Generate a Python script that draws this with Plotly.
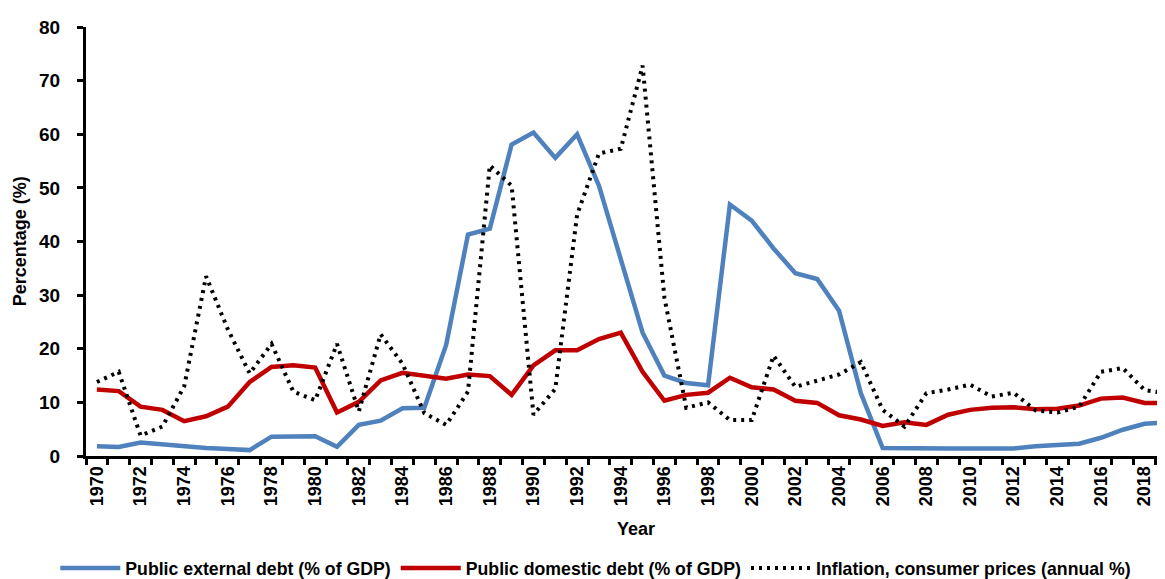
import plotly.graph_objects as go

years = list(range(1970, 2020))

external_debt = [1.8, 1.7, 2.5, 2.1, 1.7, 1.5, 1.3, 1.1, 3.6, 3.7,
                 3.7, 1.7, 5.8, 6.6, 8.9, 9.0, 20.7, 41.3, 42.4, 58.1,
                 60.3, 55.6, 60.0, 50.4, 36.9, 23.0, 15.0, 13.6, 13.2, 46.9,
                 43.9, 38.7, 34.1, 33.0, 27.1, 11.7, 1.5, 1.4, 1.4, 1.4,
                 1.4, 1.4, 1.4, 1.8, 2.0, 2.3, 3.4, 4.9, 6.0, 6.3]

domestic_debt = [12.4, 12.1, 9.2, 8.6, 6.5, 7.4, 9.2, 13.8, 16.6, 16.9,
                 16.5, 8.1, 10.1, 14.1, 15.5, 14.9, 14.4, 15.2, 14.9, 11.4,
                 16.9, 19.7, 19.7, 21.8, 23.0, 15.7, 10.3, 11.4, 11.8, 14.6,
                 12.8, 12.4, 10.3, 9.9, 7.6, 6.8, 5.6, 6.3, 5.8, 7.7,
                 8.6, 9.0, 9.1, 8.7, 8.8, 9.4, 10.7, 10.9, 9.9, 9.9]

inflation = [13.8, 15.7, 3.8, 5.5, 13.0, 33.5, 23.6, 15.4, 20.9, 12.0,
             10.4, 20.9, 8.3, 22.7, 17.2, 8.0, 5.8, 12.0, 54.2, 50.4,
             7.7, 12.5, 45.0, 56.4, 57.3, 72.8, 29.5, 9.0, 10.0, 6.7,
             6.7, 18.7, 12.9, 14.1, 15.2, 17.5, 8.6, 5.5, 11.7, 12.4,
             13.3, 11.1, 11.8, 8.5, 8.1, 9.2, 15.7, 16.4, 12.3, 11.7]

series_names = ["Public external debt (% of GDP)",
                "Public domestic debt (% of GDP)",
                "Inflation, consumer prices (annual %)"]

tick_years = years[::2]  # 1970 ... 2018
y_ticks = list(range(0, 90, 10))

FONT = "Liberation Sans, Arial, sans-serif"

fig = go.Figure()
fig.add_trace(go.Scatter(x=years, y=external_debt, name=series_names[0], mode="lines",
                         line=dict(color="#4F81BD", width=4.5)))
fig.add_trace(go.Scatter(x=years, y=domestic_debt, name=series_names[1], mode="lines",
                         line=dict(color="#C00000", width=4.5)))
fig.add_trace(go.Scatter(x=years, y=inflation, name=series_names[2], mode="lines",
                         line=dict(color="#000000", width=4, dash="3px,5px")))

fig.update_layout(
    width=1165, height=579,
    margin=dict(l=78, r=0, t=19, b=126),
    paper_bgcolor="white", plot_bgcolor="white",
    font=dict(family=FONT, size=17, color="black"),
    showlegend=True,
    legend=dict(orientation="h", x=0.469, xanchor="center", y=-0.263, yanchor="middle",
                font=dict(family=FONT, size=17.7, color="black", weight="bold"),
                itemwidth=60, bgcolor="rgba(0,0,0,0)"),
)

fig.update_xaxes(
    range=[1969.5, 2019.3],
    tickmode="array", tickvals=tick_years, ticktext=[str(y) for y in tick_years],
    tickangle=-90, ticks="", ticklen=0,
    tickfont=dict(family=FONT, size=18, color="black", weight="bold"),
    showline=True, linecolor="black", linewidth=3, mirror=False,
    showgrid=False, zeroline=False,
    minor=dict(tickmode="linear", tick0=1969.5, dtick=1, ticks="outside",
               ticklen=6, tickwidth=2.5, tickcolor="black", showgrid=False),
)
fig.update_yaxes(
    range=[0, 80], tickmode="array", tickvals=y_ticks,
    ticks="outside", ticklen=6, tickwidth=2.5, tickcolor="black",
    ticklabelstandoff=13,
    tickfont=dict(family=FONT, size=19, color="black", weight="bold"),
    showline=True, linecolor="black", linewidth=3,
    showgrid=False, zeroline=False,
)

fig.add_annotation(text="Year", xref="paper", yref="paper", x=0.506, y=-0.17,
                   xanchor="center", yanchor="middle", showarrow=False,
                   font=dict(family=FONT, size=18, color="black", weight="bold"))
fig.add_annotation(text="Percentage (%)", xref="paper", yref="paper", x=-0.061, y=0.5,
                   xanchor="center", yanchor="middle", textangle=-90, showarrow=False,
                   font=dict(family=FONT, size=18, color="black", weight="bold"))

fig.write_html("out.html")
